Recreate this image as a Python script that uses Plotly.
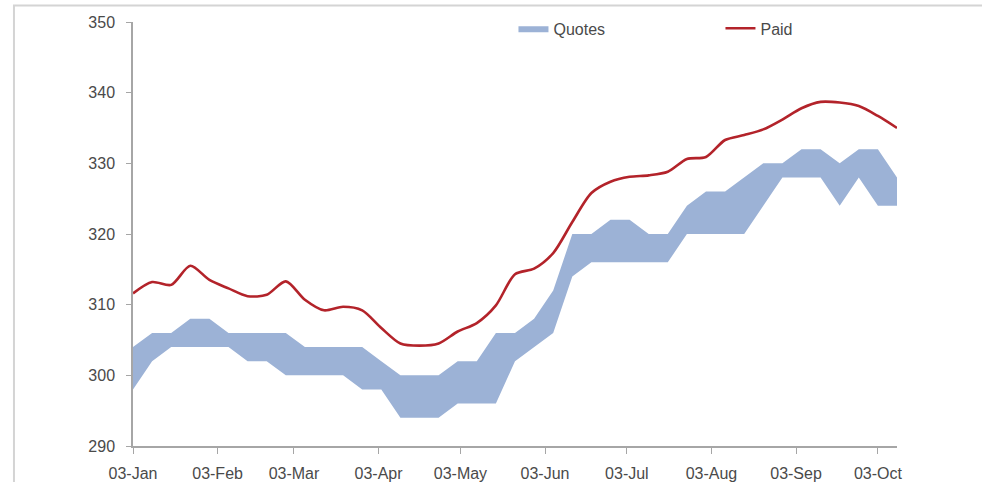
import plotly.graph_objects as go

dates = ["2011-01-03", "2011-01-10", "2011-01-17", "2011-01-24", "2011-01-31",
         "2011-02-07", "2011-02-14", "2011-02-21", "2011-02-28",
         "2011-03-07", "2011-03-14", "2011-03-21", "2011-03-28",
         "2011-04-04", "2011-04-11", "2011-04-18", "2011-04-25",
         "2011-05-02", "2011-05-09", "2011-05-16", "2011-05-23", "2011-05-30",
         "2011-06-06", "2011-06-13", "2011-06-20", "2011-06-27",
         "2011-07-04", "2011-07-11", "2011-07-18", "2011-07-25",
         "2011-08-01", "2011-08-08", "2011-08-15", "2011-08-22", "2011-08-29",
         "2011-09-05", "2011-09-12", "2011-09-19", "2011-09-26",
         "2011-10-03", "2011-10-10"]

quotes_low = [298, 302, 304, 304, 304, 304, 302, 302, 300, 300, 300, 300, 298, 298,
              294, 294, 294, 296, 296, 296, 302, 304, 306, 314, 316, 316, 316, 316,
              316, 320, 320, 320, 320, 324, 328, 328, 328, 324, 328, 324, 324]

quotes_high = [304, 306, 306, 308, 308, 306, 306, 306, 306, 304, 304, 304, 304, 302,
               300, 300, 300, 302, 302, 306, 306, 308, 312, 320, 320, 322, 322, 320,
               320, 324, 326, 326, 328, 330, 330, 332, 332, 330, 332, 332, 328]

paid = [311.6, 313.2, 312.8, 315.5, 313.5, 312.3, 311.2, 311.4, 313.3, 310.7, 309.2,
        309.7, 309.2, 306.7, 304.5, 304.2, 304.5, 306.2, 307.4, 309.9, 314.3, 315.1,
        317.3, 321.7, 325.8, 327.4, 328.1, 328.3, 328.8, 330.6, 330.9, 333.3, 334.0,
        334.8, 336.2, 337.8, 338.7, 338.6, 338.1, 336.7, 335.0]

tick_dates = ["2011-01-03", "2011-02-03", "2011-03-03", "2011-04-03", "2011-05-03",
              "2011-06-03", "2011-07-03", "2011-08-03", "2011-09-03", "2011-10-03"]
tick_labels = ["03-Jan", "03-Feb", "03-Mar", "03-Apr", "03-May",
               "03-Jun", "03-Jul", "03-Aug", "03-Sep", "03-Oct"]
y_ticks = [290, 300, 310, 320, 330, 340, 350]

band_color = "#9CB2D6"
line_color = "#B3232A"
text_color = "#4a4a4a"
axis_color = "#A6A6A6"

fig = go.Figure()
fig.add_trace(go.Scatter(x=dates, y=quotes_low, mode="lines", line=dict(width=0, color=band_color),
                         showlegend=False, hoverinfo="skip"))
fig.add_trace(go.Scatter(x=dates, y=quotes_high, mode="lines", line=dict(width=0, color=band_color),
                         fill="tonexty", fillcolor=band_color, name="Quotes"))
fig.add_trace(go.Scatter(x=dates, y=paid, mode="lines", line=dict(width=2.6, color=line_color, shape="spline", smoothing=0.8),
                         name="Paid"))

fig.update_layout(
    width=982, height=482,
    margin=dict(l=133, r=85, t=22, b=36, autoexpand=False),
    paper_bgcolor="white", plot_bgcolor="white",
    font=dict(family="Liberation Sans", size=16, color=text_color),
    legend=dict(orientation="h", x=0.498, y=0.985, xanchor="left", yanchor="middle",
                traceorder="normal",
                entrywidth=162, entrywidthmode="pixels", font=dict(size=16, color=text_color),
                bgcolor="rgba(0,0,0,0)"),
    xaxis=dict(type="date", range=["2011-01-03", "2011-10-10"], tickmode="array",
               tickvals=tick_dates, ticktext=tick_labels, showgrid=False, zeroline=False,
               showline=True, linecolor=axis_color, linewidth=1.5,
               ticks="outside", ticklen=6, tickcolor=axis_color, ticklabelstandoff=6),
    yaxis=dict(range=[290, 350], tickmode="array", tickvals=y_ticks, showgrid=False,
               zeroline=False, showline=True, linecolor=axis_color, linewidth=1.5,
               ticks="outside", ticklen=5, tickcolor=axis_color, ticklabelstandoff=8),
    shapes=[dict(type="rect", xref="paper", yref="paper", x0=-0.1558, x1=1.12, y0=-0.1,
                 y1=1.039, line=dict(color="#D4D4D4", width=2), fillcolor="rgba(0,0,0,0)", layer="below")],
)

fig.write_html("out.html", config={"displayModeBar": False},
               post_script="document.body.style.margin='0';document.body.style.overflow='hidden';")
